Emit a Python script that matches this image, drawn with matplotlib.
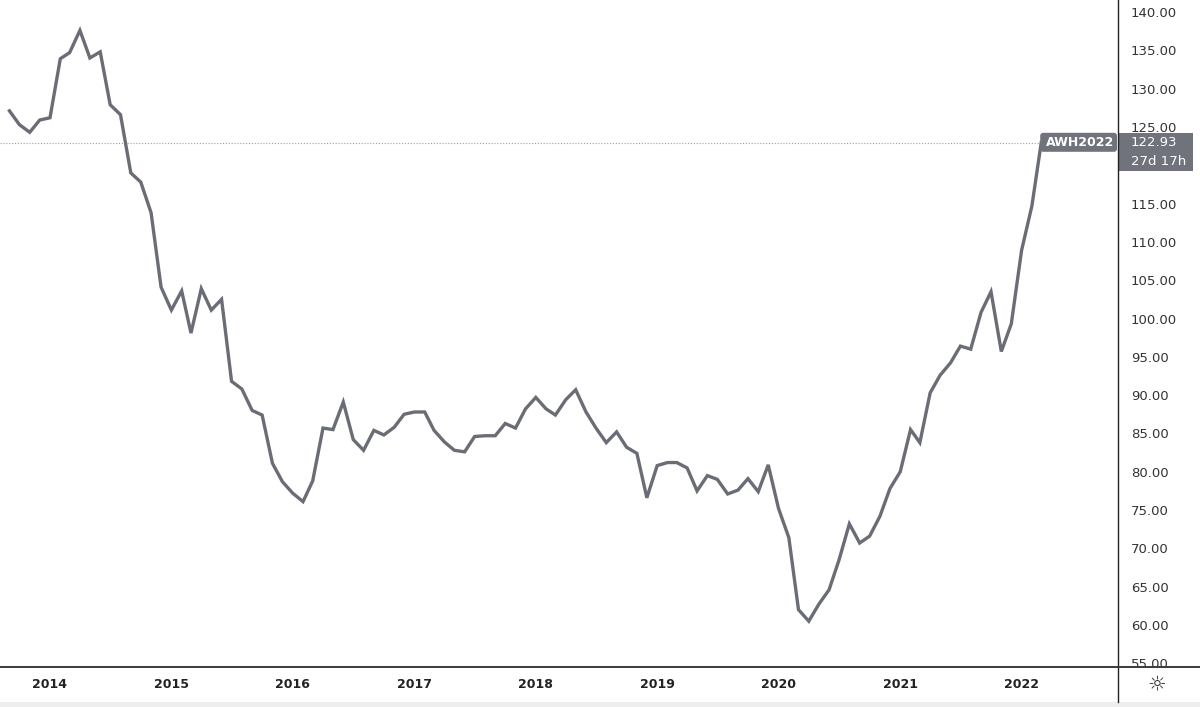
import matplotlib
matplotlib.use('Agg')
import matplotlib.pyplot as plt
import matplotlib.dates as mdates
import pandas as pd
import numpy as np
from matplotlib.patches import Rectangle, FancyBboxPatch
from matplotlib.transforms import IdentityTransform, Bbox
from matplotlib.lines import Line2D

# ---------------- data ----------------
start_month = '2013-09-01'
values = [127.1, 125.3, 124.3, 125.9, 126.2, 133.9, 134.7, 137.6, 134.0, 134.8,
          127.9, 126.6, 119.0, 117.8, 113.8, 104.1, 101.1, 103.6, 98.1, 103.9,
          101.1, 102.5, 91.8, 90.8, 88.0, 87.4, 81.1, 78.7, 77.2, 76.1,
          78.8, 85.7, 85.5, 89.1, 84.2, 82.8, 85.4, 84.8, 85.8, 87.5,
          87.8, 87.8, 85.4, 83.9, 82.8, 82.6, 84.6, 84.7, 84.7, 86.3,
          85.7, 88.2, 89.7, 88.2, 87.4, 89.4, 90.7, 87.8, 85.7, 83.8,
          85.2, 83.2, 82.4, 76.6, 80.8, 81.2, 81.2, 80.5, 77.5, 79.5,
          79.0, 77.1, 77.6, 79.1, 77.4, 80.9, 75.2, 71.4, 62.0, 60.5,
          62.7, 64.6, 68.5, 73.2, 70.7, 71.6, 74.2, 77.8, 80.0, 85.5,
          83.8, 90.3, 92.6, 94.2, 96.4, 96.0, 100.8, 103.5, 95.7, 99.3,
          108.9, 114.7, 122.93]
symbol = 'AWH2022'
last_text = '122.93'
countdown = '27d 17h'
y_ticks = list(range(55, 141, 5))
year_ticks = ['2014', '2015', '2016', '2017', '2018', '2019', '2020', '2021', '2022']

dates = pd.date_range(start_month, periods=len(values), freq='MS')

# ---------------- layout ----------------
W, H = 1200, 707
fig = plt.figure(figsize=(W / 100, H / 100), dpi=100)
fig.patch.set_facecolor('white')
ax_right_px = 1118
ax_bottom_px = 667
ax = fig.add_axes([0, (H - ax_bottom_px) / H, ax_right_px / W, ax_bottom_px / H])

line_color = '#6a6d75'
ax.plot(mdates.date2num(dates), values, color=line_color, lw=2.4,
        solid_joinstyle='miter', zorder=3)

ppy = 121.45  # pixels per year
d14 = mdates.date2num(pd.Timestamp('2014-01-01'))
dpp = 365.25 / ppy
ax.set_xlim(d14 - 50 * dpp, d14 + (ax_right_px - 50) * dpp)
upp = 80 / (625 - 12)  # units per pixel
ax.set_ylim(140 - (ax_bottom_px - 12) * upp, 140 + 12 * upp)

ax.axhline(values[-1], color='#a0a0a0', lw=0.8, ls=(0, (1, 1.6)), zorder=2)

# axes styling
for s in ['top', 'left', 'right']:
    ax.spines[s].set_visible(False)
ax.spines['bottom'].set_color('#3a3a3a')
ax.spines['bottom'].set_linewidth(1.4)

ax.yaxis.tick_right()
ax.set_yticks(y_ticks)
ax.set_yticklabels([f'{v:.2f}' for v in y_ticks])
ax.tick_params(axis='y', length=0, pad=9.4, labelsize=9.5, labelcolor='#333333')
clip = Bbox.from_extents(ax_right_px, H - ax_bottom_px + 0.5, W, H)
for lab in ax.get_yticklabels():
    lab.set_clip_box(clip)
    lab.set_clip_on(True)

ax.set_xticks([mdates.date2num(pd.Timestamp(f'{y}-01-01')) for y in year_ticks])
ax.set_xticklabels(year_ticks)
ax.tick_params(axis='x', length=0, pad=8.2, labelsize=9, labelcolor='#222222')
for lab in ax.get_xticklabels():
    lab.set_fontweight('bold')

# right axis vertical line and bottom line extension
ident = IdentityTransform()
fig.add_artist(Line2D([ax_right_px, ax_right_px], [5, H], color='#222222', lw=1.0,
                      transform=ident))
fig.add_artist(Line2D([ax_right_px, W], [H - ax_bottom_px, H - ax_bottom_px],
                      color='#3a3a3a', lw=1.4, transform=ident))
fig.add_artist(Rectangle((0, 0), W, 5, color='#eeeeee', transform=ident, lw=0))

# sun icon
fig.text(1157 / W, (H - 684) / H, '☼', ha='center', va='center', fontsize=15,
         color='#333333', family='DejaVu Sans')

# last value labels
fig.canvas.draw()
lx, ly = ax.transData.transform((mdates.date2num(dates[-1]), values[-1]))
box_color = '#70737c'
box_top, box_bot = ly + 10, ly - 28
# hide tick labels covered by the price box
for v, lab in zip(y_ticks, ax.get_yticklabels()):
    yd = ax.transData.transform((0, v))[1]
    if box_bot - 2 <= yd <= box_top - 2:
        lab.set_visible(False)
fig.add_artist(FancyBboxPatch((lx - 1, ly - 9), ax_right_px - lx, 19,
                              boxstyle='round,pad=0,rounding_size=3',
                              fc=box_color, ec='none', transform=ident))
fig.add_artist(Rectangle((ax_right_px + 0.5, box_bot), 74, box_top - box_bot,
                         fc=box_color, ec='none', transform=ident))
fig.text((lx + ax_right_px) / 2 / W, (ly + 0.5) / H, symbol, ha='center', va='center',
         color='white', fontsize=9, fontweight='bold')
fig.text(1131 / W, (ly + 0.5) / H, last_text, ha='left', va='center', color='white',
         fontsize=9.5)
fig.text(1131 / W, (ly - 18.5) / H, countdown, ha='left', va='center', color='white',
         fontsize=9.5)

fig.savefig('out.png', dpi=100)
